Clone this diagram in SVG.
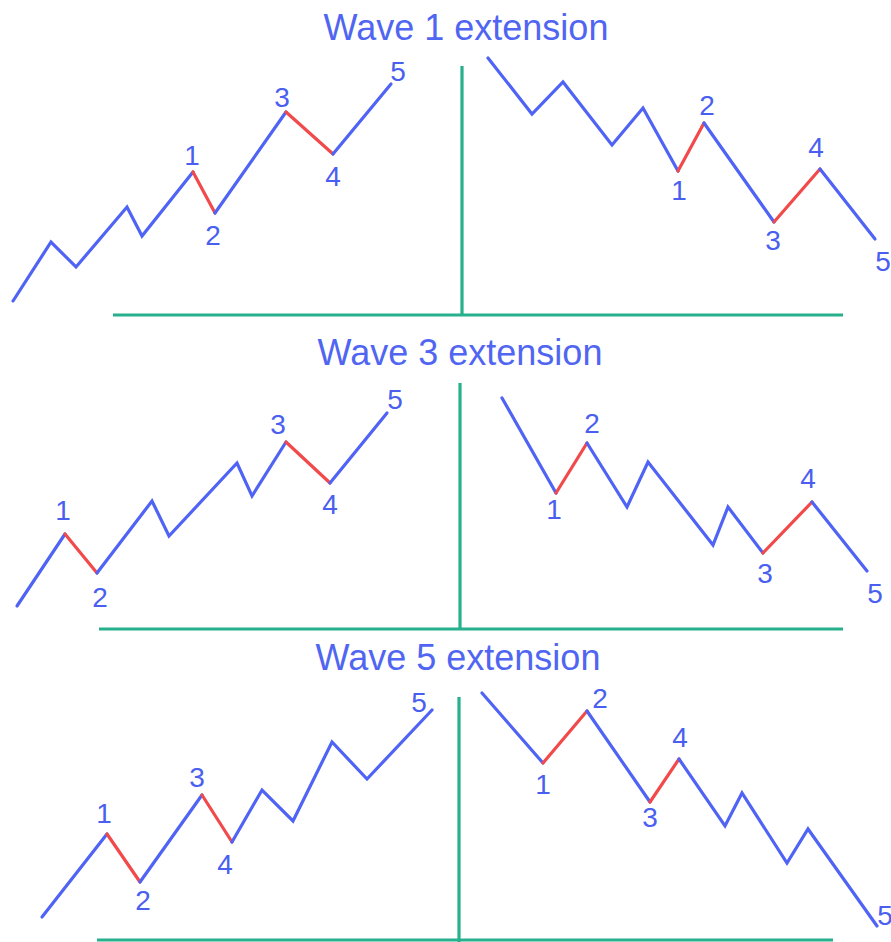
<svg xmlns="http://www.w3.org/2000/svg" width="891" height="942" viewBox="0 0 891 942">
<style>
.bg{fill:#ffffff}
.w{fill:none;stroke:#4f63f5;stroke-width:3.2;stroke-linejoin:miter;stroke-linecap:round}
.r{fill:none;stroke:#f24a4a;stroke-width:3.2;stroke-linecap:round}
.ax{fill:none;stroke:#27b08c;stroke-width:3.2}
.t{font-family:"Liberation Sans",Arial,sans-serif;font-size:36px;fill:#5066f2;text-anchor:middle}
.n{font-family:"Liberation Sans",Arial,sans-serif;font-size:28px;fill:#4a5ff0;text-anchor:middle}
</style>
<rect class="bg" width="891" height="942"/>
<g id="axes">
<line class="ax" x1="462" y1="66" x2="462" y2="315"/>
<line class="ax" x1="113" y1="315" x2="843" y2="315"/>
<line class="ax" x1="460" y1="383" x2="460" y2="629"/>
<line class="ax" x1="99" y1="629" x2="843" y2="629"/>
<line class="ax" x1="459" y1="697" x2="459" y2="942"/>
<line class="ax" x1="97" y1="940" x2="833" y2="940"/>
</g>
<g id="titles">
<text class="t" x="466" y="40">Wave 1 extension</text>
<text class="t" x="460" y="365">Wave 3 extension</text>
<text class="t" x="458" y="670">Wave 5 extension</text>
</g>
<g id="p1-left">
<polyline class="w" points="13,301 51,242 76,267 127,207 142,236 193,172"/>
<line class="r" x1="193" y1="172" x2="215" y2="213"/>
<line class="w" x1="215" y1="213" x2="286" y2="112"/>
<line class="r" x1="286" y1="112" x2="333" y2="154"/>
<line class="w" x1="333" y1="154" x2="391" y2="84"/>
<text class="n" x="192" y="165">1</text>
<text class="n" x="213" y="245">2</text>
<text class="n" x="282" y="107">3</text>
<text class="n" x="333" y="186">4</text>
<text class="n" x="398" y="81">5</text>
</g>
<g id="p1-right">
<polyline class="w" points="488,58 532,114 563,82 612,145 643,108 678,171"/>
<line class="r" x1="678" y1="171" x2="704" y2="123"/>
<line class="w" x1="704" y1="123" x2="774" y2="222"/>
<line class="r" x1="774" y1="222" x2="820" y2="169"/>
<line class="w" x1="820" y1="169" x2="875" y2="239"/>
<text class="n" x="679" y="200">1</text>
<text class="n" x="707" y="115">2</text>
<text class="n" x="773" y="250">3</text>
<text class="n" x="816" y="157">4</text>
<text class="n" x="883" y="271">5</text>
</g>
<g id="p2-left">
<line class="w" x1="17" y1="606" x2="65" y2="534"/>
<line class="r" x1="65" y1="534" x2="97" y2="573"/>
<polyline class="w" points="97,573 152,501 169,536 237,463 252,496 286,442"/>
<line class="r" x1="286" y1="442" x2="330" y2="483"/>
<line class="w" x1="330" y1="483" x2="387" y2="413"/>
<text class="n" x="63" y="520">1</text>
<text class="n" x="100" y="607">2</text>
<text class="n" x="278" y="434">3</text>
<text class="n" x="330" y="514">4</text>
<text class="n" x="395" y="409">5</text>
</g>
<g id="p2-right">
<line class="w" x1="502" y1="398" x2="556" y2="493"/>
<line class="r" x1="556" y1="493" x2="587" y2="443"/>
<polyline class="w" points="587,443 627,507 648,462 713,545 728,507 763,553"/>
<line class="r" x1="763" y1="553" x2="812" y2="502"/>
<line class="w" x1="812" y1="502" x2="867" y2="571"/>
<text class="n" x="554" y="519">1</text>
<text class="n" x="592" y="433">2</text>
<text class="n" x="765" y="583">3</text>
<text class="n" x="808" y="488">4</text>
<text class="n" x="875" y="603">5</text>
</g>
<g id="p3-left">
<line class="w" x1="42" y1="917" x2="107" y2="834"/>
<line class="r" x1="107" y1="834" x2="140" y2="882"/>
<line class="w" x1="140" y1="882" x2="202" y2="795"/>
<line class="r" x1="202" y1="795" x2="232" y2="842"/>
<polyline class="w" points="232,842 262,790 293,821 332,742 367,779 432,710"/>
<text class="n" x="104" y="823">1</text>
<text class="n" x="143" y="910">2</text>
<text class="n" x="197" y="787">3</text>
<text class="n" x="225" y="874">4</text>
<text class="n" x="419" y="712">5</text>
</g>
<g id="p3-right">
<line class="w" x1="482" y1="693" x2="543" y2="763"/>
<line class="r" x1="543" y1="763" x2="587" y2="711"/>
<line class="w" x1="587" y1="711" x2="650" y2="802"/>
<line class="r" x1="650" y1="802" x2="679" y2="759"/>
<polyline class="w" points="679,759 725,826 742,793 787,863 808,829 877,926"/>
<text class="n" x="543" y="794">1</text>
<text class="n" x="600" y="708">2</text>
<text class="n" x="650" y="827">3</text>
<text class="n" x="680" y="747">4</text>
<text class="n" x="885" y="925">5</text>
</g>
</svg>
